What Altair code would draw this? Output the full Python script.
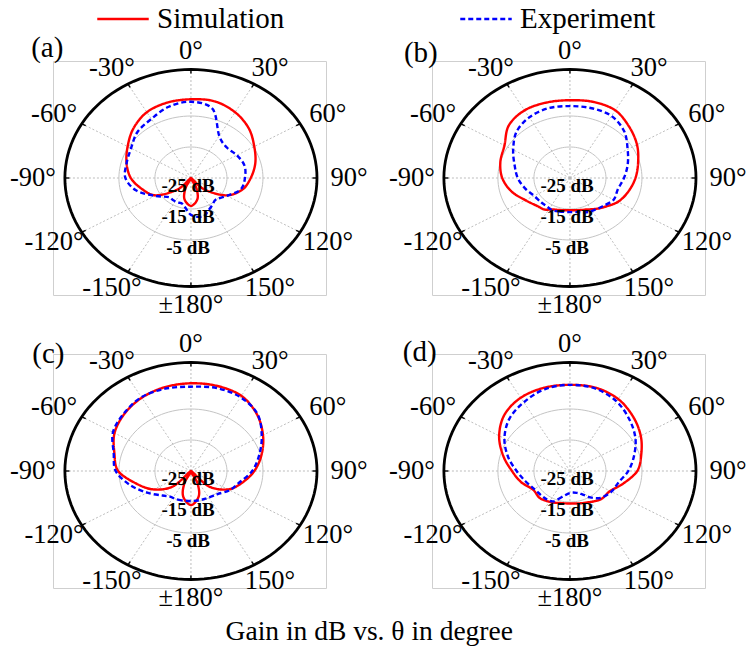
import math
import altair as alt
import pandas as pd

# ---------------- data ----------------
THETA = [-180, -165, -155, -145, -135, -120, -105, -90, -75, -60, -45, -30, -15,
         0, 15, 30, 45, 60, 75, 90, 105, 120, 135, 145, 155, 165]

SIM_A = [-16.0, -18.0, -21.5, -25.0, -19.8, -13.8, -11.0, -8.3, -6.5, -4.7, -2.4, -0.5, 0.2,
         0.4, 0.6, -0.5, -2.3, -4.7, -6.5, -8.4, -10.3, -13.8, -19.8, -25.0, -21.5, -18.0]
EXP_A = [-13.1, -16.3, -16.3, -16.3, -16.3, -13.5, -9.3, -6.8, -6.5, -5.8, -4.0, -3.0, -1.2,
         -0.4, -1.9, -9.3, -11.0, -10.3, -9.6, -10.0, -10.7, -13.5, -15.2, -14.5, -13.5, -12.1]
SIM_B = [-14.6, -14.3, -13.8, -12.6, -12.2, -10.7, -8.2, -6.2, -5.0, -4.0, -1.0, 0.2, 0.2,
         0.1, 0.4, 0.2, -1.7, -3.5, -5.4, -6.8, -8.2, -9.6, -11.7, -12.8, -13.8, -14.3]
EXP_B = [-14.0, -13.8, -13.5, -13.8, -13.8, -13.5, -12.1, -10.5, -9.1, -6.8, -4.0, -2.4, -1.7,
         -1.8, -1.7, -1.9, -3.7, -6.5, -8.4, -10.0, -11.2, -11.0, -12.1, -12.6, -12.9, -13.6]
SIM_C = [-14.0, -16.6, -20.8, -25.0, -18.0, -13.1, -9.3, -4.8, -3.0, -0.5, 1.1, 2.3, 3.0,
         3.3, 3.4, 3.0, 0.9, -1.9, -4.7, -7.4, -10.3, -13.1, -18.0, -25.0, -20.8, -16.6]
EXP_C = [-15.3, -15.2, -15.0, -14.9, -13.8, -11.0, -7.5, -4.1, -2.8, 0.0, 1.3, 2.5, 2.5,
         2.2, 2.7, 2.5, 1.1, -2.3, -5.4, -8.0, -11.0, -12.6, -14.5, -15.0, -15.2, -15.3]
SIM_D = [-14.5, -14.3, -13.8, -13.3, -12.9, -13.1, -11.0, -8.9, -5.8, -2.3, 0.7, 2.3, 2.8,
         2.8, 2.8, 1.8, -0.2, -2.3, -4.5, -6.3, -9.6, -12.1, -12.4, -13.1, -13.8, -14.2]
EXP_D = [-17.9, -16.3, -14.2, -13.8, -13.8, -13.5, -12.2, -10.2, -7.2, -4.0, -1.2, 0.6, 2.3,
         2.8, 2.5, 0.9, -1.6, -4.0, -6.6, -8.8, -11.0, -11.7, -12.8, -14.5, -16.6, -17.7]

PANEL_NAMES = ["(a)", "(b)", "(c)", "(d)"]
SIMS = [SIM_A, SIM_B, SIM_C, SIM_D]
EXPS = [EXP_A, EXP_B, EXP_C, EXP_D]
SERIES = ["Simulation", "Experiment"]
CAPTION = "Gain in dB vs. θ in degree"

CENTER_DB = -25.0          # gain at the centre of each polar grid
OUTER_DB = 10.0            # gain of the outer (black) circle
RING_DB = [-15.0, -5.0]    # grey grid circles
RING_LABEL_DB = [-25.0, -15.0, -5.0]
RING_LABELS = ["-25 dB", "-15 dB", "-5 dB"]
SPOKE_DEG = list(range(0, 360, 30))
ANGLE_LABEL_DEG = [0, 30, 60, 90, 120, 150, 180, -150, -120, -90, -60, -30]
ANGLE_LABELS = ["0°", "30°", "60°", "90°", "120°", "150°", "±180°",
                "-150°", "-120°", "-90°", "-60°", "-30°"]

# ---------------- styling / layout ----------------
FONT = "Liberation Serif"
COLORS = ["#ff0000", "#0000ff"]
DASHES = [[1, 0], [5, 3]]
PANEL_W, PANEL_H = 273, 234
X_DOMAIN = [-38.3, 37.5]
Y_DOMAIN = [-37.75, 37.75]
LABEL_KX, LABEL_KY = 1.254, 1.175
PANEL_LABEL_POS = [(-39.9, 42.0), (-41.4, 40.2), (-39.6, 37.8), (-41.7, 38.4)]

RMAX = OUTER_DB - CENTER_DB


def pol(r, deg):
    a = math.radians(deg)
    return r * math.sin(a), r * math.cos(a)


X = alt.X("x:Q", scale=alt.Scale(domain=X_DOMAIN, nice=False, zero=False), axis=None)
Y = alt.Y("y:Q", scale=alt.Scale(domain=Y_DOMAIN, nice=False, zero=False), axis=None)

legend = alt.Legend(
    title=None, orient="none", legendX=43, legendY=-57, direction="horizontal",
    symbolType="stroke", symbolSize=2650, symbolStrokeWidth=2.4, clipHeight=30,
    labelFont=FONT, labelFontSize=29, labelOffset=7, labelLimit=0,
    columnPadding=174, padding=0,
)


def make_panel(i):
    rows = []
    for name, gains in zip(SERIES, (SIMS[i], EXPS[i])):
        for k, (t, g) in enumerate(zip(THETA, gains)):
            r = max(g - CENTER_DB, 0.0)
            x, y = pol(r, t)
            rows.append(dict(series=name, k=k, theta=t, gain=g, x=x, y=y))
    curves = pd.DataFrame(rows)

    spokes = pd.DataFrame(
        [dict(a=a, x=0.0, y=0.0, x2=pol(RMAX, a)[0], y2=pol(RMAX, a)[1]) for a in SPOKE_DEG])
    ticks = pd.DataFrame(
        [dict(a=a, x=pol(RMAX, a)[0], y=pol(RMAX, a)[1],
              x2=pol(RMAX - 1.25, a)[0], y2=pol(RMAX - 1.25, a)[1]) for a in SPOKE_DEG])

    def circle(db):
        r = db - CENTER_DB
        return [dict(ring=db, k=k, x=pol(r, k * 3)[0], y=pol(r, k * 3)[1]) for k in range(120)]

    rings = pd.DataFrame([p for db in RING_DB for p in circle(db)])
    outer = pd.DataFrame(circle(OUTER_DB))

    alabels = pd.DataFrame([
        dict(text=s, x=RMAX * LABEL_KX * math.sin(math.radians(a)),
             y=RMAX * LABEL_KY * math.cos(math.radians(a)))
        for a, s in zip(ANGLE_LABEL_DEG, ANGLE_LABELS)])
    dblabels = pd.DataFrame([
        dict(text=s, x=-0.8, y=-(db - CENTER_DB)) for db, s in zip(RING_LABEL_DB, RING_LABELS)])
    plabel = pd.DataFrame([dict(text=PANEL_NAMES[i], x=PANEL_LABEL_POS[i][0],
                                y=PANEL_LABEL_POS[i][1])])

    l_spokes = alt.Chart(spokes).mark_rule(
        color="#b5b5b5", strokeWidth=0.9, strokeDash=[2, 2]).encode(X, Y, x2="x2:Q", y2="y2:Q")
    l_rings = alt.Chart(rings).mark_line(
        color="#c4c4c4", strokeWidth=1, interpolate="linear-closed").encode(
        X, Y, detail="ring:N", order="k:Q")
    l_outer = alt.Chart(outer).mark_line(
        color="black", strokeWidth=2.8, interpolate="linear-closed").encode(X, Y, order="k:Q")
    l_ticks = alt.Chart(ticks).mark_rule(color="black", strokeWidth=1.4).encode(
        X, Y, x2="x2:Q", y2="y2:Q")
    l_curves = alt.Chart(curves).mark_line(
        strokeWidth=2.4, interpolate="cardinal-closed").encode(
        X, Y,
        color=alt.Color("series:N", scale=alt.Scale(domain=SERIES, range=COLORS), legend=legend),
        strokeDash=alt.StrokeDash("series:N", scale=alt.Scale(domain=SERIES, range=DASHES),
                                  legend=legend),
        order="k:Q")
    l_alab = alt.Chart(alabels).mark_text(
        font=FONT, fontSize=26.5, color="black", align="center", baseline="middle").encode(
        X, Y, text="text:N")
    l_dblab = alt.Chart(dblabels).mark_text(
        font=FONT, fontSize=19, fontWeight="bold", color="black", align="center",
        baseline="middle", dy=8).encode(X, Y, text="text:N")
    l_plab = alt.Chart(plabel).mark_text(
        font=FONT, fontSize=29, color="black", align="center", baseline="middle").encode(
        X, Y, text="text:N")

    return alt.layer(l_spokes, l_rings, l_ticks, l_outer, l_curves, l_alab, l_dblab, l_plab
                     ).properties(width=PANEL_W, height=PANEL_H)


chart = alt.concat(
    *[make_panel(i) for i in range(4)],
    columns=2,
    spacing={"row": 59, "column": 106},
    bounds="flush",
    title=alt.TitleParams(text=CAPTION, orient="bottom", anchor="middle", font=FONT,
                          fontSize=27.5, fontWeight="normal", color="black", offset=6, dx=-9),
).properties(
    padding={"left": 9, "top": 4, "right": 0, "bottom": 0},
    background="white",
).configure_view(stroke="#cfcfcf", strokeWidth=1)

chart.save("out.html", embed_options={"renderer": "svg", "actions": False})
